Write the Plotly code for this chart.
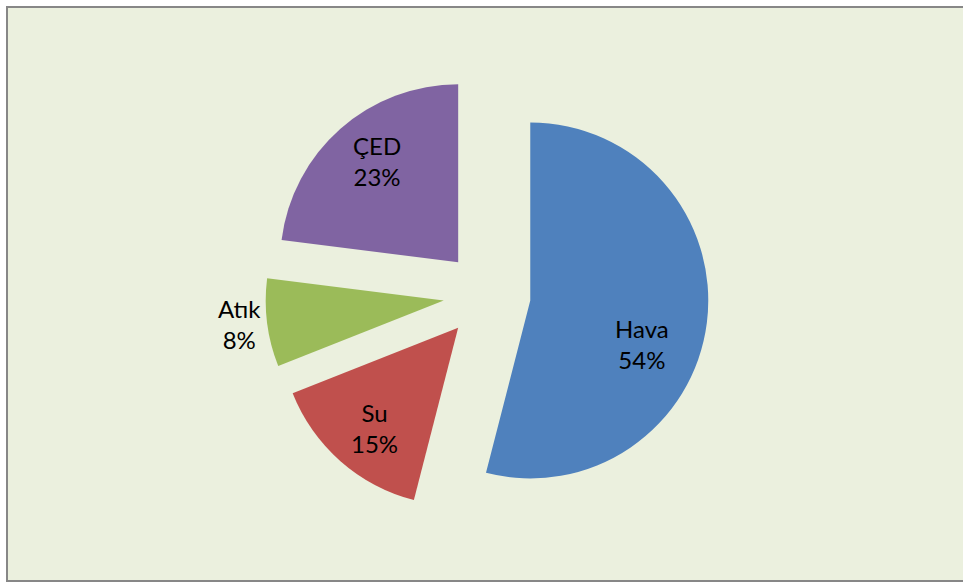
import math
import plotly.graph_objects as go

# Share of environmental inspection topics
labels = ["Hava", "Su", "Atık", "ÇED"]
values = [54, 15, 8, 23]
colors = ["#4F81BD", "#C0504D", "#9BBB59", "#8064A2"]

W, H = 963, 583
cx, cy = 487, 295          # pie centre in pixels (from top-left)
r_pie = 178                # pie radius in pixels
pull = 0.245               # explosion as fraction of radius
half = r_pie * (1 + pull)  # half-size of the domain box

# label placement: distance from the slice tip (fraction of radius) and
# angular nudge (degrees) relative to each slice's mid-angle
label_r = [0.675, 0.732, 1.157, 0.728]
label_shift = [13.8, -1.7, 0.7, 2.5]

fig = go.Figure(
    go.Pie(
        labels=labels,
        values=values,
        sort=False,
        direction="clockwise",
        rotation=0,
        pull=[pull] * len(values),
        marker=dict(colors=colors, line=dict(width=0)),
        textinfo="none",
        hoverinfo="label+percent",
        showlegend=False,
        domain=dict(
            x=[(cx - half) / W, (cx + half) / W],
            y=[(H - cy - half) / H, (H - cy + half) / H],
        ),
    )
)

# data labels: "name / percent" placed inside each exploded slice
total = sum(values)
annotations = []
cum = 0
for lab, val, rf, sh in zip(labels, values, label_r, label_shift):
    mid = (cum + val / 2) / total * 360
    cum += val
    t = math.radians(mid)
    tip_x = cx + pull * r_pie * math.sin(t)
    tip_y = cy - pull * r_pie * math.cos(t)
    p = math.radians(mid + sh)
    lx = tip_x + rf * r_pie * math.sin(p)
    ly = tip_y - rf * r_pie * math.cos(p)
    annotations.append(
        dict(
            x=lx / W, y=1 - ly / H,
            xref="paper", yref="paper",
            text=f"{lab}<br>{round(val / total * 100)}%",
            showarrow=False,
            xanchor="center", yanchor="middle",
            align="center",
            font=dict(family="Lato, 'Liberation Sans', sans-serif", size=24, color="#000000"),
        )
    )

fig.update_layout(
    width=W,
    height=H,
    margin=dict(l=0, r=0, t=0, b=0, autoexpand=False),
    paper_bgcolor="#FFFFFF",
    plot_bgcolor="#FFFFFF",
    annotations=annotations,
    shapes=[
        dict(
            type="rect",
            xref="paper", yref="paper",
            x0=7 / W, x1=1.02,
            y0=(H - 581) / H, y1=(H - 7) / H,
            fillcolor="#EBF0DE",
            line=dict(color="#878787", width=2),
            layer="below",
        )
    ],
)

fig.write_html("out.html")
